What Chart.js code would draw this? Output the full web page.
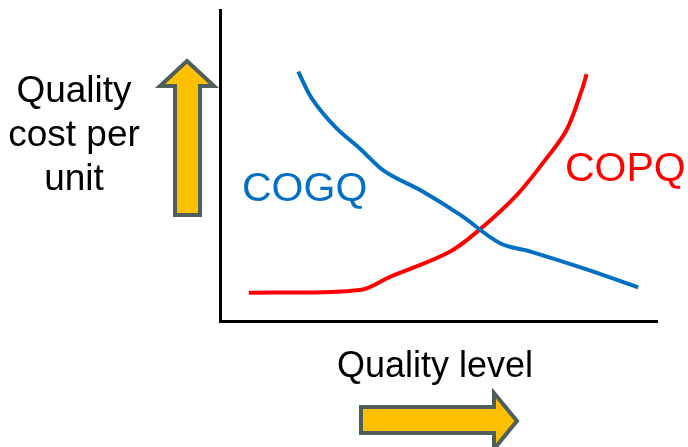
<!DOCTYPE html>
<html>
<head>
<meta charset="utf-8">
<script src="https://cdn.jsdelivr.net/npm/chart.js@4/dist/chart.umd.min.js"></script>
<style>
  body { margin: 0; background: #fff; }
  #wrap { position: relative; width: 688px; height: 447px; overflow: hidden; }
  canvas { position: absolute; left: 0; top: 0; }
  .lbl { position: absolute; font-family: "Liberation Sans", Arial, sans-serif; line-height: 1; white-space: nowrap; }
  svg { position: absolute; left: 0; top: 0; }
</style>
</head>
<body>
<div id="wrap">
  <canvas id="chart" width="688" height="447"></canvas>
  <svg width="688" height="447">
    <polygon points="187,61 214,86 200,86 200,215 175,215 175,86 160,86"
      fill="#FFC000" stroke="#4F5F5E" stroke-width="4" />
    <polygon points="361,407 494,407 494,393 517,421 494,449 494,433 361,433"
      fill="#FFC000" stroke="#4F5F5E" stroke-width="4" />
  </svg>
  <div class="lbl" style="left:0; width:148px; top:68px; font-size:37px; line-height:44px; text-align:center;">Quality<br>cost per<br>unit</div>
  <div class="lbl" style="left:325px; width:220px; top:347px; font-size:36px; text-align:center;">Quality level</div>
  <div class="lbl" style="left:242px; top:167px; font-size:41px; color:#0070C0;">COGQ</div>
  <div class="lbl" style="left:565px; top:147px; font-size:41px; color:#FF0000;">COPQ</div>
</div>
<script>
// cost of good quality (blue) and cost of poor quality (red)
const cogqLevel = [17.9, 21.0, 26.3, 32.0, 37.8, 45.8, 55.0, 64.1, 70.9, 83.9, 95.7];
const cogqCost  = [80.2, 71.6, 62.5, 55.5, 48.0, 42.1, 34.1, 25.0, 22.4, 16.6, 10.8];

const copqLevel = [6.6, 32.0, 38.9, 52.6, 59.5, 67.9, 74.0, 79.3, 82.8, 83.9];
const copqCost  = [9.1, 10.0, 14.2, 22.3, 29.5, 40.5, 51.0, 61.4, 74.3, 79.4];

function toPoints(xs, ys) {
  return xs.map((x, i) => ({ x: x, y: ys[i] }));
}

const axis = {
  type: 'linear',
  min: 0,
  max: 100,
  ticks: { display: false },
  grid: { display: false, drawTicks: false, tickLength: 0 },
  border: { display: true, color: '#000', width: 3 }
};

new Chart(document.getElementById('chart'), {
  type: 'line',
  data: {
    datasets: [
      {
        label: 'COGQ',
        data: toPoints(cogqLevel, cogqCost),
        borderColor: '#0070C0',
        borderWidth: 4,
        pointRadius: 0,
        tension: 0.35,
        fill: false
      },
      {
        label: 'COPQ',
        data: toPoints(copqLevel, copqCost),
        borderColor: '#FF0000',
        borderWidth: 4,
        pointRadius: 0,
        tension: 0.35,
        fill: false
      }
    ]
  },
  options: {
    responsive: false,
    animation: false,
    layout: { padding: { left: 220, right: 31, top: 10, bottom: 126 } },
    plugins: { legend: { display: false }, tooltip: { enabled: false } },
    scales: { x: axis, y: { ...axis } }
  }
});
</script>
</body>
</html>
